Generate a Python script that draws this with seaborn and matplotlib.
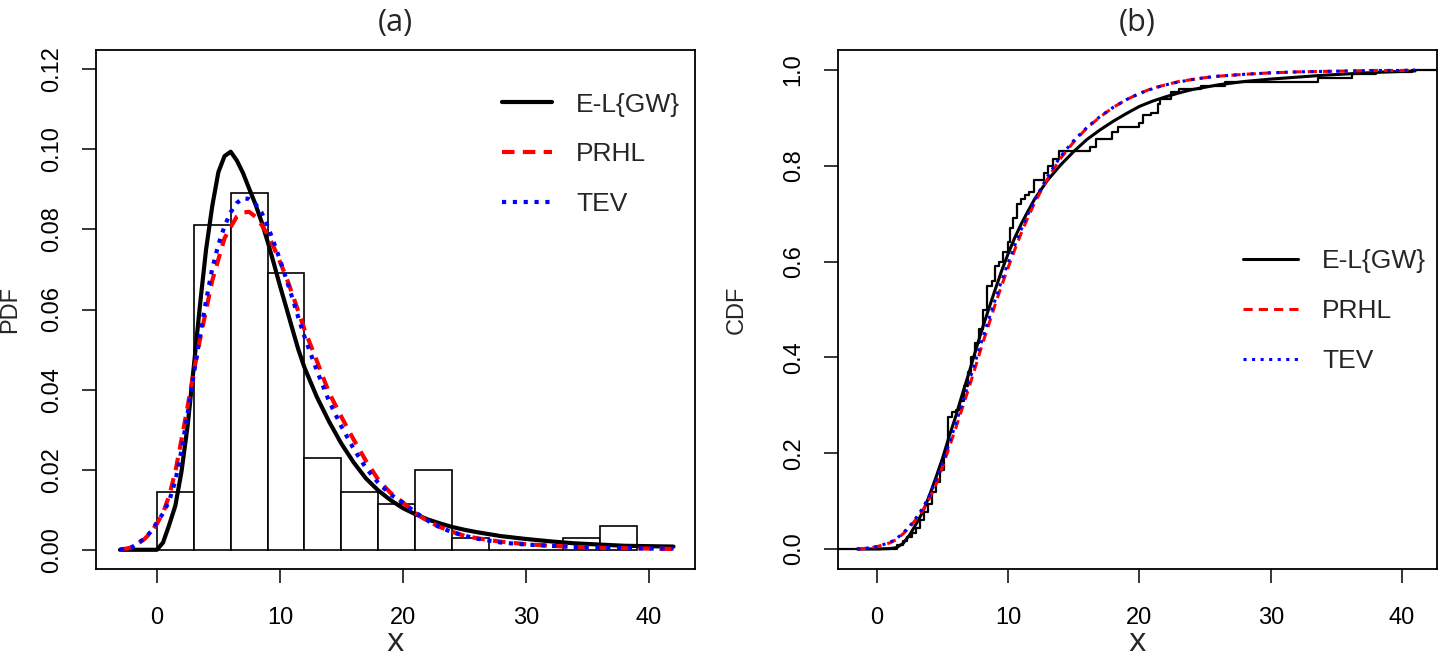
import numpy as np
import seaborn as sns
import matplotlib.pyplot as plt

# histogram of the data (density scale, bin width 3)
hist_edges = [0, 3, 6, 9, 12, 15, 18, 21, 24, 27, 30, 33, 36, 39]
hist_density = [0.0145, 0.081, 0.089, 0.069, 0.023, 0.0145, 0.0115,
                0.020, 0.003, 0.0, 0.0, 0.003, 0.006]

# fitted densities
x_pdf = [-3, -2, -1, -0.5, 0, 0.5, 1, 1.5, 2, 2.5, 3, 3.5, 4, 4.5, 5, 5.5,
         6, 6.5, 7, 7.5, 8, 8.5, 9, 9.5, 10, 10.5, 11, 11.5, 12, 13, 14, 15,
         16, 17, 18, 19, 20, 21, 22, 23, 24, 25, 26, 28, 30, 32, 34, 36, 38,
         40, 42]
pdf_elgw = [0, 0, 0, 0, 0, 0.0018, 0.0062, 0.011, 0.0195, 0.031, 0.0457,
            0.061, 0.075, 0.0858, 0.0943, 0.0983, 0.0994, 0.0972, 0.0941,
            0.0902, 0.0864, 0.082, 0.077, 0.0716, 0.066, 0.0607, 0.0553,
            0.050, 0.0455, 0.0382, 0.032, 0.0265, 0.0218, 0.0178, 0.0148,
            0.0124, 0.0104, 0.0089, 0.0076, 0.0066, 0.0057, 0.005, 0.0044,
            0.0034, 0.0027, 0.0021, 0.0016, 0.0013, 0.001, 0.0009, 0.0008]
pdf_prhl = [0, 0.0006, 0.0027, 0.0043, 0.0065, 0.0092, 0.0135, 0.0195,
            0.0275, 0.0358, 0.0445, 0.0525, 0.0598, 0.0672, 0.0725, 0.0778,
            0.0806, 0.0832, 0.0842, 0.0844, 0.0832, 0.0812, 0.0787, 0.0756,
            0.072, 0.0682, 0.064, 0.0595, 0.055, 0.0472, 0.0392, 0.0332,
            0.0275, 0.0222, 0.0175, 0.0142, 0.0118, 0.0092, 0.0072, 0.0057,
            0.0045, 0.0035, 0.0029, 0.002, 0.0014, 0.001, 0.0007, 0.0005,
            0.0004, 0.0003, 0.0002]
pdf_tev = [0, 0.0007, 0.0028, 0.0045, 0.0068, 0.0091, 0.0122, 0.0172,
           0.0248, 0.034, 0.0438, 0.0534, 0.0622, 0.0702, 0.0762, 0.0808,
           0.0843, 0.0866, 0.0878, 0.0876, 0.0864, 0.0843, 0.0809, 0.0768,
           0.0725, 0.0678, 0.063, 0.058, 0.0532, 0.0448, 0.0371, 0.0308,
           0.0252, 0.0204, 0.0167, 0.0138, 0.0118, 0.0094, 0.0073, 0.0056,
           0.0044, 0.0035, 0.0028, 0.0018, 0.0013, 0.001, 0.0007, 0.0005,
           0.0004, 0.0003, 0.0003]

# fitted distribution functions
x_cdf = [-1.5, -1, 0, 1, 1.5, 2, 2.5, 3, 3.5, 4, 4.5, 5, 5.5, 6, 6.5, 7,
         7.5, 8, 8.5, 9, 9.5, 10, 10.5, 11, 11.5, 12, 13, 14, 15, 16, 17, 18,
         19, 20, 21, 22, 23, 24, 25, 26, 28, 30, 32, 34, 36, 38, 40, 41]
cdf_elgw = [0, 0, 0, 0.001, 0.003, 0.012, 0.03, 0.053, 0.078, 0.112, 0.15,
            0.19, 0.235, 0.277, 0.323, 0.367, 0.413, 0.458, 0.5, 0.541,
            0.581, 0.617, 0.65, 0.679, 0.705, 0.73, 0.77, 0.802, 0.83, 0.855,
            0.875, 0.893, 0.909, 0.924, 0.935, 0.944, 0.952, 0.959, 0.964,
            0.969, 0.976, 0.981, 0.985, 0.989, 0.992, 0.995, 0.997, 0.998]
cdf_prhl = [0, 0.001, 0.005, 0.013, 0.02, 0.032, 0.046, 0.063, 0.081, 0.106,
            0.135, 0.172, 0.212, 0.252, 0.294, 0.336, 0.38, 0.425, 0.467,
            0.51, 0.55, 0.588, 0.625, 0.66, 0.692, 0.722, 0.773, 0.816, 0.85,
            0.879, 0.902, 0.922, 0.938, 0.951, 0.962, 0.969, 0.976, 0.98,
            0.984, 0.987, 0.991, 0.994, 0.996, 0.997, 0.998, 0.999, 0.999, 1.0]
cdf_tev = [0, 0.001, 0.005, 0.014, 0.022, 0.034, 0.048, 0.066, 0.086, 0.112,
           0.143, 0.18, 0.22, 0.262, 0.305, 0.348, 0.392, 0.436, 0.478, 0.52,
           0.56, 0.598, 0.634, 0.668, 0.699, 0.728, 0.778, 0.82, 0.853, 0.88,
           0.903, 0.922, 0.938, 0.951, 0.961, 0.969, 0.975, 0.98, 0.984,
           0.987, 0.991, 0.994, 0.996, 0.997, 0.998, 0.999, 0.999, 1.0]

# empirical cdf (jump positions and level after each jump)
ecdf_x = [-3.0, 1.5, 2.0, 2.3, 2.7, 3.0, 3.3, 3.6, 3.9, 4.2, 4.5, 4.8, 5.1,
          5.3, 5.4, 5.7, 6.0, 6.3, 6.6, 6.9, 7.2, 7.5, 7.8, 8.1, 8.4, 8.8,
          9.0, 9.3, 9.6, 10.0, 10.1, 10.4, 10.7, 11.0, 11.3, 11.6, 12.0,
          12.7, 13.0, 13.4, 13.9, 16.2, 16.7, 17.9, 18.4, 20.0, 20.3, 20.9,
          21.4, 21.6, 22.4, 23.0, 24.7, 26.5, 33.6, 36.2, 38.0, 40.8, 43.0]
ecdf_y = [0, 0.009, 0.017, 0.026, 0.034, 0.043, 0.06, 0.078, 0.095, 0.12,
          0.14, 0.165, 0.2, 0.215, 0.275, 0.285, 0.29, 0.31, 0.34, 0.37, 0.4,
          0.43, 0.46, 0.5, 0.55, 0.56, 0.59, 0.6, 0.62, 0.64, 0.67, 0.69,
          0.72, 0.73, 0.74, 0.745, 0.77, 0.785, 0.8, 0.815, 0.83, 0.84,
          0.855, 0.87, 0.88, 0.89, 0.905, 0.91, 0.93, 0.94, 0.955, 0.96,
          0.966, 0.974, 0.983, 0.991, 0.995, 1.0, 1.0]

labels = ['E-L{GW}', 'PRHL', 'TEV']

sns.set_style('ticks')
plt.rcParams['font.family'] = ['Liberation Sans', 'DejaVu Sans']
plt.rcParams['axes.linewidth'] = 1.3
plt.rcParams['axes.edgecolor'] = 'black'
plt.rcParams['lines.solid_joinstyle'] = 'round'
plt.rcParams['lines.dash_joinstyle'] = 'round'

fig = plt.figure(figsize=(14.4, 6.59), dpi=100)
ax1 = fig.add_axes([96 / 1440, 1 - 569 / 659, 599 / 1440, 519 / 659])
ax2 = fig.add_axes([838 / 1440, 1 - 569 / 659, 599 / 1440, 519 / 659])

# ---- (a) histogram + densities
bin_mid = [(a + b) / 2 for a, b in zip(hist_edges[:-1], hist_edges[1:])]
sns.histplot(x=bin_mid, weights=hist_density, bins=hist_edges, stat='count',
             fill=True, color='white', edgecolor='black', linewidth=1.2,
             alpha=1, ax=ax1)
sns.lineplot(x=x_pdf, y=pdf_elgw, color='black', linewidth=3, ax=ax1)
sns.lineplot(x=x_pdf, y=pdf_prhl, color='red', linewidth=3,
             linestyle=(0, (3, 2)), ax=ax1)
sns.lineplot(x=x_pdf, y=pdf_tev, color='blue', linewidth=3,
             linestyle=(0, (1, 1.6)), ax=ax1)
ax1.set_xlim(-4.95, 43.75)
ax1.set_ylim(-0.0048, 0.1248)
ax1.set_yticks([0, 0.02, 0.04, 0.06, 0.08, 0.10, 0.12])
ax1.set_yticklabels(['0.00', '0.02', '0.04', '0.06', '0.08', '0.10', '0.12'])
ax1.set_ylabel('PDF', fontsize=17)
ax1.yaxis.set_label_coords(-0.125, 0.5)
ax1.set_title('(a)', fontsize=22, family='Open Sans', pad=14)
leg1 = ax1.legend(handles=ax1.lines[-3:], labels=labels, loc='upper left',
                  bbox_to_anchor=(0.678, 0.918), frameon=False, fontsize=19,
                  handlelength=1.9, handletextpad=0.9, labelspacing=0.98,
                  borderpad=0, borderaxespad=0)

# ---- (b) empirical + fitted cdfs
sns.lineplot(x=ecdf_x, y=ecdf_y, drawstyle='steps-post', color='black',
             linewidth=1.6, ax=ax2)
sns.lineplot(x=x_cdf, y=cdf_elgw, color='black', linewidth=2.2, ax=ax2)
sns.lineplot(x=x_cdf, y=cdf_prhl, color='red', linewidth=2.2,
             linestyle=(0, (3, 2)), ax=ax2)
sns.lineplot(x=x_cdf, y=cdf_tev, color='blue', linewidth=2.2,
             linestyle=(0, (1, 1.8)), ax=ax2)
ax2.set_xlim(-2.97, 42.67)
ax2.set_ylim(-0.0417, 1.0417)
ax2.set_yticks([0, 0.2, 0.4, 0.6, 0.8, 1.0])
ax2.set_yticklabels(['0.0', '0.2', '0.4', '0.6', '0.8', '1.0'])
ax2.set_ylabel('CDF', fontsize=17)
ax2.yaxis.set_label_coords(-0.15, 0.5)
ax2.set_title('(b)', fontsize=22, family='Open Sans', pad=14)
leg2 = ax2.legend(handles=ax2.lines[-3:], labels=labels, loc='upper left',
                  bbox_to_anchor=(0.676, 0.6165), frameon=False, fontsize=19,
                  handlelength=2.1, handletextpad=0.9, labelspacing=0.98,
                  borderpad=0, borderaxespad=0)

for ax in (ax1, ax2):
    ax.set_xticks([0, 10, 20, 30, 40])
    ax.set_xlabel('x', fontsize=24, family='Open Sans')
    ax.xaxis.set_label_coords(0.5, -0.11)
    ax.tick_params(direction='out', length=10, width=1.1, labelsize=17,
                   colors='black')
    ax.tick_params(axis='x', pad=17)
    ax.tick_params(axis='y', pad=14)
    for lab in ax.get_yticklabels():
        lab.set_rotation(90)
        lab.set_va('center')
    for side in ['top', 'right', 'left', 'bottom']:
        ax.spines[side].set_visible(True)
        ax.spines[side].set_color('black')

fig.savefig('out.png', dpi=100)
